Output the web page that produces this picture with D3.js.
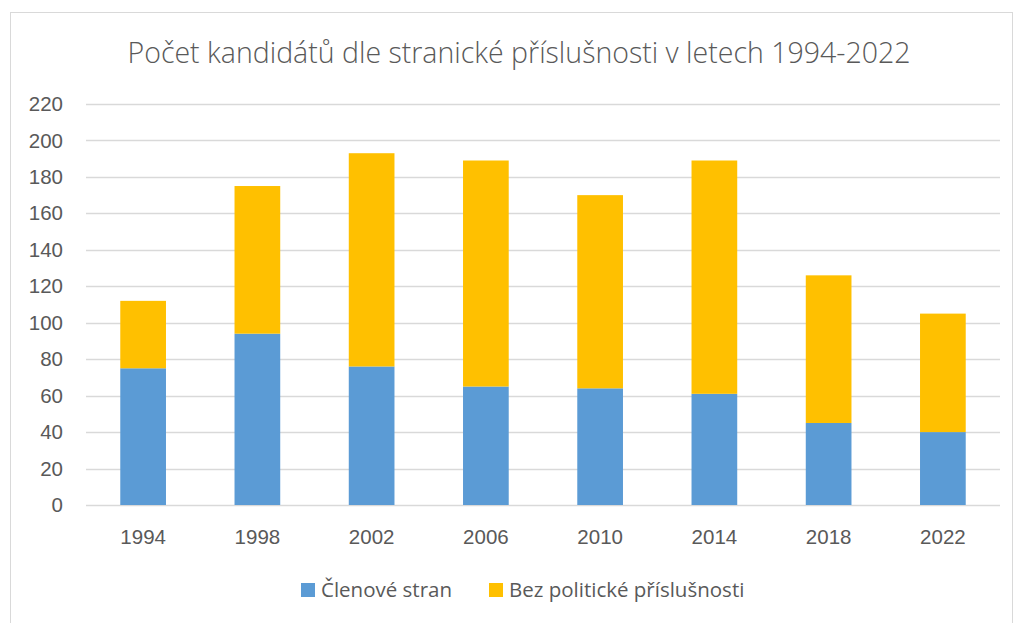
<!DOCTYPE html>
<html>
<head>
<meta charset="utf-8">
<script src="https://cdn.jsdelivr.net/npm/d3@7"></script>
<style>
  html, body { margin: 0; padding: 0; background: #fff; }
  svg { display: block; font-family: "Open Sans", "DejaVu Sans", sans-serif; }
</style>
</head>
<body>
<div id="chart"></div>
<script>
// data
const years = ["1994", "1998", "2002", "2006", "2010", "2014", "2018", "2022"];
const clenove = [75, 94, 76, 65, 64, 61, 45, 40];
const bezPrislusnosti = [37, 81, 117, 124, 106, 128, 81, 65];
const seriesNames = ["Členové stran", "Bez politické příslušnosti"];
const seriesColors = ["#5B9BD5", "#FFC000"];
const yTicks = [0, 20, 40, 60, 80, 100, 120, 140, 160, 180, 200, 220];
const title = "Počet kandidátů dle stranické příslušnosti v letech 1994-2022";

const width = 1020, height = 623;
const margin = { top: 104, right: 20, bottom: 118, left: 86 };
const textColor = "#595959";
const fontSize = 20.5;

const svg = d3.select("#chart").append("svg")
  .attr("width", width)
  .attr("height", height);

// ramecek grafu
svg.append("rect")
  .attr("x", 10.5).attr("y", 12.5)
  .attr("width", 1002).attr("height", 620)
  .attr("fill", "#fff")
  .attr("stroke", "#d9d9d9");

const x = d3.scaleBand()
  .domain(years)
  .range([margin.left, 1000])
  .paddingInner(0.6)
  .paddingOuter(0.3);

const y = d3.scaleLinear()
  .domain([0, 220])
  .range([height - margin.bottom, margin.top]);

// mrizka
svg.append("g")
  .selectAll("line")
  .data(yTicks)
  .join("line")
  .attr("x1", margin.left)
  .attr("x2", 1000)
  .attr("y1", d => Math.round(y(d)) + 0.5)
  .attr("y2", d => Math.round(y(d)) + 0.5)
  .attr("stroke", "#d9d9d9")
  .attr("stroke-width", 1.5);

// osa y
const yAxis = svg.append("g")
  .attr("transform", `translate(${margin.left - 23},0)`)
  .call(d3.axisLeft(y).tickValues(yTicks).tickSize(0).tickPadding(0));
yAxis.select(".domain").remove();
yAxis.selectAll("text")
  .attr("fill", textColor)
  .attr("font-size", fontSize);

// osa x
const xAxis = svg.append("g")
  .attr("transform", `translate(0,${height - margin.bottom})`)
  .call(d3.axisBottom(x).tickSize(0).tickPadding(24));
xAxis.select(".domain").remove();
xAxis.selectAll("text")
  .attr("fill", textColor)
  .attr("font-size", fontSize);

// skladane sloupce
const rows = years.map((yr, i) => ({ year: yr, a: clenove[i], b: bezPrislusnosti[i] }));
const stacked = d3.stack().keys(["a", "b"])(rows);

svg.append("g")
  .selectAll("g")
  .data(stacked)
  .join("g")
  .attr("fill", (d, i) => seriesColors[i])
  .selectAll("rect")
  .data(d => d)
  .join("rect")
  .attr("x", d => x(d.data.year))
  .attr("width", x.bandwidth())
  .attr("y", d => y(d[1]))
  .attr("height", d => y(d[0]) - y(d[1]));

// titulek
svg.append("text")
  .attr("x", 519)
  .attr("y", 63)
  .attr("text-anchor", "middle")
  .attr("fill", textColor)
  .attr("font-size", 28.5)
  .attr("font-weight", 300)
  .text(title);

// legenda
const legendX = [301, 489];
const legend = svg.append("g");
seriesNames.forEach((name, i) => {
  legend.append("rect")
    .attr("x", legendX[i]).attr("y", 583)
    .attr("width", 14).attr("height", 14)
    .attr("fill", seriesColors[i]);
  legend.append("text")
    .attr("x", legendX[i] + 20)
    .attr("y", 597)
    .attr("fill", textColor)
    .attr("font-size", fontSize)
    .text(name);
});
</script>
</body>
</html>
